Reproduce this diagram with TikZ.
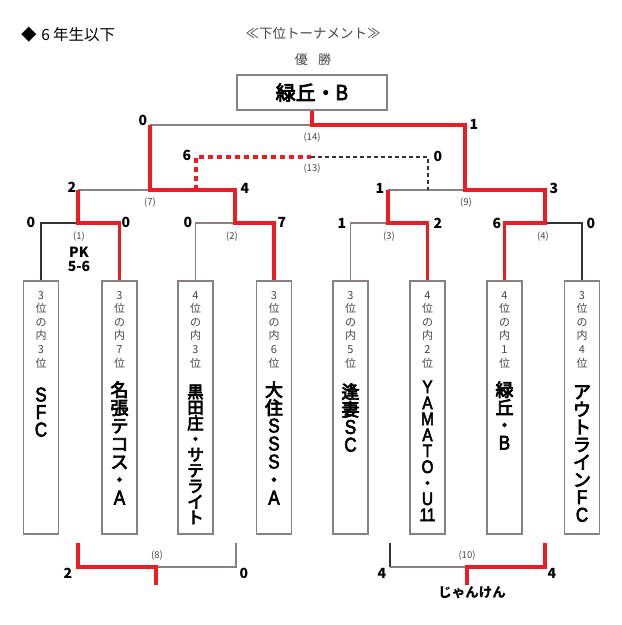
\documentclass[tikz,border=0pt]{standalone}
\usepackage{fontspec}
\setmainfont{Noto Sans CJK JP}
\newfontfamily\medfont[FakeBold=4]{Noto Sans CJK JP}
\newfontfamily\latfont[FakeStretch=0.85, FakeBold=3]{Liberation Sans}
\newcommand\lt[1]{{\latfont\fontsize{20}{20}\selectfont #1}}
\newcommand\lty[1]{{\latfont\fontsize{18}{18}\selectfont #1}}
\definecolor{rd}{RGB}{236,28,36}
\definecolor{gl}{RGB}{135,130,128}
\definecolor{tx}{RGB}{70,70,70}
\newcommand\vstk[6]{%
  \foreach \c [count=\i from 0] in {#6} {\node[#5, name=#1-\i] at ({#2},{#3+\i*#4}) {\c};}%
}
\begin{document}
\begin{tikzpicture}[x=1pt,y=-1pt,
  win/.style={draw=rd, line width=3.6pt},
  lose/.style={draw=gl, line width=1.2pt},
  dk/.style={draw=black!80, line width=1.2pt},
  team/.style={draw=gl, line width=1.2pt, minimum width=35pt, minimum height=253pt, inner sep=0pt},
  score/.style={font=\fontsize{14}{14}\selectfont\bfseries, inner sep=0pt},
  mno/.style={font=\fontsize{9.5}{9.5}\selectfont, text=tx, inner sep=0pt},
  nm/.style={font=\fontsize{18}{18}\selectfont\medfont, text height=13pt, text depth=0pt, inner sep=0pt},
  nmy/.style={font=\fontsize{16}{16}\selectfont\medfont, text height=12pt, text depth=0pt, inner sep=0pt},
  nms/.style={font=\fontsize{16.5}{16.5}\selectfont\medfont, text height=12pt, text depth=0pt, inner sep=0pt},
  sm/.style={font=\fontsize{11}{11}\selectfont, text=tx, text height=8pt, text depth=0pt, inner sep=0pt}]
\useasboundingbox (0,0) rectangle (622,625);
\fill[white] (0,0) rectangle (622,625);

% header
\node[anchor=west, inner sep=0pt, font=\fontsize{15.5}{15.5}\selectfont] (hd) at (21,35) {◆\hspace{0.3em}6\hspace{0.2em}年生以下};
\node[inner sep=0pt, font=\fontsize{13.5}{13.5}\selectfont, text=tx] (sub) at (313,33) {≪下位トーナメント≫};
\node[inner sep=0pt, font=\fontsize{13}{13}\selectfont, text=tx] (yu) at (313,60) {優\hspace{0.8em}勝};
\node[draw=gl, line width=1.2pt, minimum width=150pt, minimum height=35pt, inner sep=0pt,
      font=\fontsize{20}{20}\selectfont\medfont] (champ) at (312,92.5) {緑丘・{\latfont\fontsize{22}{22}\selectfont B}};

% team boxes
\foreach \n/\x in {1/41,2/119.5,3/195.5,4/274,5/350.5,6/427.5,7/504.5,8/582}
  {\node[team] (t\n) at (\x,407.5) {};}

% junction coordinates
\coordinate (m1) at (78,223);  \coordinate (m1t) at (78,190);
\coordinate (m2) at (235,223); \coordinate (m2t) at (235,190);
\coordinate (m3) at (388,223); \coordinate (m3t) at (388,190);
\coordinate (m4) at (545,223); \coordinate (m4t) at (545,190);
\coordinate (m7) at (150,190); \coordinate (m7t) at (150,125);
\coordinate (m9) at (465,190); \coordinate (m9t) at (465,125);
\coordinate (m14) at (312,125);
\coordinate (d1) at (196,190); \coordinate (d2) at (196,157);
\coordinate (d3) at (311,157); \coordinate (d4) at (428,157); \coordinate (d5) at (428,190);
\coordinate (b1) at (78,543);  \coordinate (b2) at (78,567); \coordinate (b3) at (156,567);
\coordinate (b4) at (156,585); \coordinate (b5) at (236,567); \coordinate (b6) at (236,543);
\coordinate (c1) at (390,543); \coordinate (c2) at (390,567); \coordinate (c3) at (467,567);
\coordinate (c4) at (467,585); \coordinate (c5) at (545,567); \coordinate (c6) at (545,543);

% losing lines
\draw[dk] (t1.north) |- (m1);
\draw[lose] (m1t) -- (m7);
\draw[lose] (t3.north) |- (m2);
\draw[lose] (m7t) -- (m14);
\draw[lose] (t5.north) |- (m3);
\draw[lose] (m3t) -- (m9);
\draw[dk] (m4) -| (t8.north);
\draw[lose] (b3) -- (b5) -- (b6);
\draw[dk] (c1) -- (c2);
\draw[lose] (c2) -- (c3);
\draw[dk, dashed, dash pattern=on 4pt off 3pt] (d3) -- (d4) -- (d5);

% winning lines
\draw[win] (t2.north) |- (m1) -- (m1t);
\draw[win] (t4.north) |- (m2) -- (m2t) -- (m7) -- (m7t);
\draw[win, dash pattern=on 5pt off 4pt] (d1) -- (d2) -- (d3);
\draw[win] (t6.north) |- (m3) -- (m3t);
\draw[win] (t7.north) |- (m4) -- (m4t) -- (m9) -- (m9t) -- (m14) -- (champ.south);
\draw[win] (b1) -- (b2) -- (b3) -- (b4);
\draw[win] (c6) -- (c5) -- (c3) -- (c4);

% scores
\node[score] (s1a) at (31,222) {0};  \node[score] (s1b) at (126,222) {0};
\node[score] (s2a) at (188,222) {0}; \node[score] (s2b) at (282,222) {7};
\node[score] (s3a) at (342,223) {1}; \node[score] (s3b) at (438,223) {2};
\node[score] (s4a) at (497,223) {6}; \node[score] (s4b) at (591,223) {0};
\node[score] (s7a) at (72,187) {2};  \node[score] (s7b) at (245,188) {4};
\node[score] (s9a) at (380,188) {1}; \node[score] (s9b) at (554,188) {3};
\node[score] (s13a) at (187,155) {6}; \node[score] (s13b) at (438,156) {0};
\node[score] (s14a) at (143,120) {0}; \node[score] (s14b) at (474,124) {1};
\node[score] (s8a) at (68,573) {2};  \node[score] (s8b) at (244,573) {0};
\node[score] (s10a) at (382,573) {4}; \node[score] (s10b) at (552,573) {4};
\node[score] (pk) at (79,252) {PK};
\node[score] (pk2) at (79,266) {5-6};
\node[score, font=\fontsize{13.5}{13.5}\selectfont\bfseries] (jk) at (472,593) {じゃんけん};

% match numbers
\node[mno] (n14) at (312,138) {(14)};
\node[mno] (n13) at (312,169) {(13)};
\node[mno] (n7) at (150,203) {(7)};
\node[mno] (n9) at (466,203) {(9)};
\node[mno] (n1) at (79,237) {(1)};
\node[mno] (n2) at (232,237) {(2)};
\node[mno] (n3) at (389,237) {(3)};
\node[mno] (n4) at (543,237) {(4)};
\node[mno] (n8) at (157,556) {(8)};
\node[mno] (n10) at (467,556) {(10)};

% seeding texts
\vstk{r1}{41}{295}{13.6}{sm}{3,位,の,内,3,位}
\vstk{r2}{119.5}{295}{13.6}{sm}{3,位,の,内,7,位}
\vstk{r3}{195.5}{295}{13.6}{sm}{4,位,の,内,3,位}
\vstk{r4}{274}{295}{13.6}{sm}{3,位,の,内,6,位}
\vstk{r5}{350.5}{295}{13.6}{sm}{3,位,の,内,5,位}
\vstk{r6}{427.5}{295}{13.6}{sm}{4,位,の,内,2,位}
\vstk{r7}{504.5}{295}{13.6}{sm}{4,位,の,内,1,位}
\vstk{r8}{582}{295}{13.6}{sm}{3,位,の,内,4,位}

% team names
\vstk{a1}{41}{395}{17.5}{nm}{\lt{S},\lt{F},\lt{C}}
\vstk{a2}{119.5}{390}{18}{nm}{名,張,テ,コ,ス,・,\lt{A}}
\vstk{a3}{195.5}{392}{15.7}{nms}{黒,田,庄,・,サ,テ,ラ,イ,ト}
\vstk{a4}{274}{390}{18}{nm}{大,住,\lt{S},\lt{S},\lt{S},・,\lt{A}}
\vstk{a5}{350.5}{392}{17.7}{nm}{逢,妻,\lt{S},\lt{C}}
\vstk{a6}{427.5}{387}{16}{nmy}{\lty{Y},\lty{A},\lty{M},\lty{A},\lty{T},\lty{O},・,\lty{U},\lty{11}}
\vstk{a7}{504.5}{390}{17.7}{nm}{緑,丘,・,\lt{B}}
\vstk{a8}{582}{392}{17.6}{nm}{ア,ウ,ト,ラ,イ,ン,\lt{F},\lt{C}}
\end{tikzpicture}
\end{document}
